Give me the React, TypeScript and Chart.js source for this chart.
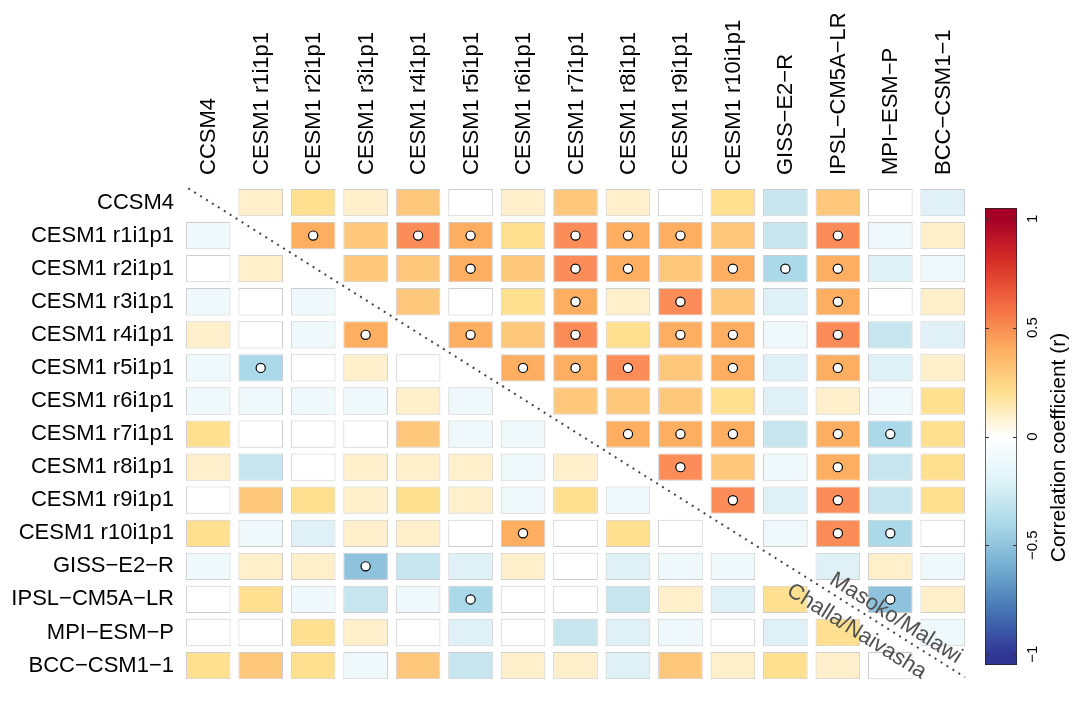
import React, { useEffect, useRef } from 'react';
import { Chart, registerables } from 'chart.js';

Chart.register(...registerables);

const FONT = "'Liberation Sans', Arial, Helvetica, sans-serif";

const models = [
  'CCSM4',
  'CESM1 r1i1p1',
  'CESM1 r2i1p1',
  'CESM1 r3i1p1',
  'CESM1 r4i1p1',
  'CESM1 r5i1p1',
  'CESM1 r6i1p1',
  'CESM1 r7i1p1',
  'CESM1 r8i1p1',
  'CESM1 r9i1p1',
  'CESM1 r10i1p1',
  'GISS\u2212E2\u2212R',
  'IPSL\u2212CM5A\u2212LR',
  'MPI\u2212ESM\u2212P',
  'BCC\u2212CSM1\u22121',
];

// correlation coefficients (r), row model vs column model; null on the diagonal
const rowCCSM4 = [null, 0.1, 0.2, 0.1, 0.3, 0.0, 0.1, 0.3, 0.1, 0.0, 0.2, -0.3, 0.3, 0.0, -0.2];
const rowR1 = [-0.1, null, 0.4, 0.3, 0.5, 0.4, 0.2, 0.5, 0.4, 0.4, 0.3, -0.3, 0.5, -0.1, 0.1];
const rowR2 = [0.0, 0.1, null, 0.3, 0.3, 0.4, 0.3, 0.5, 0.4, 0.3, 0.4, -0.4, 0.4, -0.2, -0.1];
const rowR3 = [-0.1, 0.0, -0.1, null, 0.3, 0.0, 0.2, 0.4, 0.1, 0.5, 0.3, -0.2, 0.4, 0.0, 0.1];
const rowR4 = [0.1, 0.0, -0.1, 0.4, null, 0.4, 0.3, 0.5, 0.2, 0.4, 0.4, -0.1, 0.5, -0.3, -0.2];
const rowR5 = [-0.1, -0.4, 0.0, 0.1, 0.0, null, 0.4, 0.4, 0.5, 0.3, 0.4, -0.2, 0.4, -0.2, 0.1];
const rowR6 = [-0.1, -0.1, -0.1, -0.1, 0.1, -0.1, null, 0.3, 0.3, 0.3, 0.2, -0.2, 0.1, -0.1, 0.2];
const rowR7 = [0.2, 0.0, 0.0, 0.0, 0.3, -0.1, -0.1, null, 0.4, 0.4, 0.4, -0.3, 0.4, -0.4, 0.2];
const rowR8 = [0.1, -0.3, 0.0, 0.1, 0.1, 0.1, -0.1, 0.1, null, 0.5, 0.3, -0.1, 0.4, -0.3, 0.2];
const rowR9 = [0.0, 0.3, 0.2, 0.1, 0.2, 0.1, -0.1, 0.2, -0.1, null, 0.5, -0.2, 0.5, -0.3, 0.2];
const rowR10 = [0.2, -0.1, -0.2, 0.1, 0.1, 0.0, 0.4, 0.0, 0.2, 0.0, null, -0.1, 0.5, -0.4, 0.0];
const rowGISS = [-0.1, 0.1, 0.1, -0.5, -0.3, -0.2, 0.1, 0.0, -0.2, -0.1, -0.1, null, -0.2, 0.1, -0.1];
const rowIPSL = [0.0, 0.2, -0.1, -0.3, -0.1, -0.4, 0.0, 0.0, -0.3, 0.1, -0.2, 0.2, null, -0.5, 0.1];
const rowMPI = [0.0, 0.0, 0.2, 0.1, 0.0, -0.2, 0.0, -0.3, -0.2, -0.1, 0.0, -0.2, 0.2, null, -0.1];
const rowBCC = [0.2, 0.3, 0.2, -0.1, 0.3, -0.3, 0.1, 0.1, -0.2, 0.3, 0.1, 0.2, 0.1, 0.0, null];

const correlations = [
  rowCCSM4, rowR1, rowR2, rowR3, rowR4, rowR5, rowR6, rowR7,
  rowR8, rowR9, rowR10, rowGISS, rowIPSL, rowMPI, rowBCC,
];

// significant correlations: [row, column]
const significant: [number, number][] = [
  [1, 2], [1, 4], [1, 5], [1, 7], [1, 8], [1, 9], [1, 12],
  [2, 5], [2, 7], [2, 8], [2, 10], [2, 11], [2, 12],
  [3, 7], [3, 9], [3, 12],
  [4, 3], [4, 5], [4, 7], [4, 9], [4, 10], [4, 12],
  [5, 1], [5, 6], [5, 7], [5, 8], [5, 10], [5, 12],
  [7, 8], [7, 9], [7, 10], [7, 12], [7, 13],
  [8, 9], [8, 12],
  [9, 10], [9, 12],
  [10, 6], [10, 12], [10, 13],
  [11, 3],
  [12, 5], [12, 13],
];

const diagonalX = [-0.38, 14.42];
const diagonalY = [-0.43, 14.35];
const upperLabel = 'Masoko/Malawi';
const lowerLabel = 'Challa/Naivasha';

const cellPalette = [
  '#8fc3dd', '#abd9e9', '#c7e5ef', '#dff1f7', '#eff8fb', '#ffffff',
  '#ffefca', '#fee090', '#fec87c', '#fdae61', '#fc8d59',
];

function cellColor(v: number) {
  const k = Math.max(-5, Math.min(5, Math.round(v * 10)));
  return cellPalette[k + 5];
}

const colorbarTicks = [-1, -0.5, 0, 0.5, 1];
const colorbarRange = [-1.05, 1.05];
const colorbarStops: [number, string][] = [
  [-1, '#313695'], [-0.8, '#4575b4'], [-0.6, '#74add1'], [-0.4, '#abd9e9'],
  [-0.2, '#e0f3f8'], [0, '#ffffff'], [0.2, '#fee090'], [0.4, '#fdae61'],
  [0.6, '#f46d43'], [0.8, '#d73027'], [1, '#a50026'],
];
const colorbarTitle = 'Correlation coefficient (r)';

const HALF = 0.413;

const topLabelPlugin = {
  id: 'topLabels',
  afterDraw(chart: any) {
    const xs = chart.scales.x;
    const top = chart.chartArea.top;
    const ctx = chart.ctx;
    ctx.save();
    ctx.font = `22px ${FONT}`;
    ctx.fillStyle = '#000';
    ctx.textAlign = 'left';
    ctx.textBaseline = 'middle';
    models.forEach((m, i) => {
      ctx.save();
      ctx.translate(xs.getPixelForValue(i) + 1, top - 11);
      ctx.rotate(-Math.PI / 2);
      ctx.fillText(m, 0, 0);
      ctx.restore();
    });
    ctx.restore();
  },
};

const diagLabelPlugin = {
  id: 'diagLabels',
  afterDatasetsDraw(chart: any) {
    const xs = chart.scales.x;
    const ys = chart.scales.y;
    const x0 = xs.getPixelForValue(diagonalX[0]);
    const y0 = ys.getPixelForValue(diagonalY[0]);
    const x1 = xs.getPixelForValue(diagonalX[1]);
    const y1 = ys.getPixelForValue(diagonalY[1]);
    const ang = Math.atan2(y1 - y0, x1 - x0);
    const slope = (y1 - y0) / (x1 - x0);
    const ctx = chart.ctx;
    const put = (text: string, col: number, off: number) => {
      const px = xs.getPixelForValue(col);
      const py = y0 + (px - x0) * slope;
      ctx.save();
      ctx.translate(px, py);
      ctx.rotate(ang);
      ctx.font = `22px ${FONT}`;
      ctx.fillStyle = '#505050';
      ctx.textAlign = 'center';
      ctx.textBaseline = 'middle';
      ctx.fillText(text, 0, off);
      ctx.restore();
    };
    put(upperLabel, 12.97, -13);
    put(lowerLabel, 12.55, 19);
  },
};

const colorbarPlugin = {
  id: 'colorbarDecor',
  afterDraw(chart: any) {
    const ys = chart.scales.y;
    const { left, right, top, bottom } = chart.chartArea;
    const ctx = chart.ctx;
    ctx.save();
    ctx.strokeStyle = '#333';
    ctx.lineWidth = 1;
    colorbarTicks.forEach((t) => {
      const py = Math.round(ys.getPixelForValue(t)) + 0.5;
      ctx.beginPath();
      ctx.moveTo(left, py);
      ctx.lineTo(left + 4, py);
      ctx.moveTo(right - 4, py);
      ctx.lineTo(right, py);
      ctx.stroke();
      ctx.save();
      ctx.translate(right + 16, ys.getPixelForValue(t));
      ctx.rotate(-Math.PI / 2);
      ctx.font = `15px ${FONT}`;
      ctx.fillStyle = '#000';
      ctx.textAlign = 'center';
      ctx.textBaseline = 'middle';
      ctx.fillText(String(t).replace('-', '\u2212'), 0, 0);
      ctx.restore();
    });
    ctx.save();
    ctx.translate(right + 42, (top + bottom) / 2 + 11);
    ctx.rotate(-Math.PI / 2);
    ctx.font = `21px ${FONT}`;
    ctx.fillStyle = '#000';
    ctx.textAlign = 'center';
    ctx.textBaseline = 'middle';
    ctx.fillText(colorbarTitle, 0, 0);
    ctx.restore();
    ctx.restore();
  },
};

export default function App() {
  const mainRef = useRef<HTMLCanvasElement>(null);
  const cbRef = useRef<HTMLCanvasElement>(null);

  useEffect(() => {
    const barSets = correlations.map((row, r) => ({
      type: 'bar',
      label: models[r],
      data: row
        .map((v, c) => (v === null ? null : { x: c, y: [r - HALF, r + HALF], v }))
        .filter((d) => d !== null),
      backgroundColor: (ctx: any) => cellColor(ctx.raw ? ctx.raw.v : 0),
      borderColor: '#cdcdcd',
      borderWidth: 1,
      borderSkipped: false,
      grouped: false,
      barPercentage: 0.85,
      categoryPercentage: 1,
      order: 2,
    }));

    const markerSet = {
      type: 'scatter',
      label: 'significant',
      data: significant.map(([r, c]) => ({ x: c, y: r })),
      pointRadius: 4.6,
      pointStyle: 'circle',
      backgroundColor: '#ffffff',
      borderColor: '#000000',
      pointBackgroundColor: '#ffffff',
      pointBorderColor: '#000000',
      pointBorderWidth: 1.2,
      borderWidth: 1.2,
      order: 0,
    };

    const lineSet = {
      type: 'line',
      label: 'diagonal',
      data: [
        { x: diagonalX[0], y: diagonalY[0] },
        { x: diagonalX[1], y: diagonalY[1] },
      ],
      borderColor: '#444444',
      borderWidth: 2,
      borderDash: [2, 5],
      pointRadius: 0,
      fill: false,
      tension: 0,
      order: 1,
    };

    const tickFont = { family: FONT, size: 22 };

    const main = new Chart(mainRef.current as HTMLCanvasElement, {
      type: 'bar',
      data: { datasets: [markerSet, lineSet, ...barSets] as any },
      options: {
        animation: false,
        responsive: false,
        events: [],
        layout: { padding: { top: 0, left: 0, right: 103, bottom: 0 } },
        plugins: { legend: { display: false }, tooltip: { enabled: false } },
        scales: {
          x: {
            type: 'linear',
            position: 'top',
            min: -0.5,
            max: 14.5,
            bounds: 'data',
            offset: false,
            grid: { display: false, drawTicks: false },
            border: { display: false },
            afterBuildTicks: (s: any) => {
              s.ticks = models.map((_, i) => ({ value: i }));
            },
            afterFit: (s: any) => {
              s.height = 186;
            },
            ticks: { display: false },
          },
          y: {
            type: 'linear',
            min: -0.5,
            max: 14.46,
            reverse: true,
            bounds: 'data',
            grid: { display: false, drawTicks: false },
            border: { display: false },
            afterBuildTicks: (s: any) => {
              s.ticks = models.map((_, i) => ({ value: i }));
            },
            afterFit: (s: any) => {
              s.width = 182;
            },
            ticks: {
              autoSkip: false,
              padding: 8,
              color: '#000',
              font: tickFont,
              callback: (v: any) => models[v] ?? '',
            },
          },
        },
      } as any,
      plugins: [topLabelPlugin, diagLabelPlugin],
    });

    const cb = new Chart(cbRef.current as HTMLCanvasElement, {
      type: 'bar',
      data: {
        labels: ['r'],
        datasets: [
          {
            data: [colorbarRange] as any,
            backgroundColor: (ctx: any) => {
              const chart = ctx.chart;
              const ys = chart.scales.y;
              if (!chart.chartArea || !ys) return '#fff';
              const g = chart.ctx.createLinearGradient(0, ys.getPixelForValue(-1), 0, ys.getPixelForValue(1));
              colorbarStops.forEach(([v, c]) => g.addColorStop((v + 1) / 2, c));
              return g;
            },
            borderColor: '#222',
            borderWidth: 1,
            borderSkipped: false,
            barPercentage: 1,
            categoryPercentage: 1,
          },
        ],
      },
      options: {
        animation: false,
        responsive: false,
        events: [],
        layout: { padding: { top: 208, bottom: 37, left: 25, right: 0 } },
        plugins: { legend: { display: false }, tooltip: { enabled: false } },
        scales: {
          x: { display: false },
          y: {
            position: 'right',
            min: colorbarRange[0],
            max: colorbarRange[1],
            grid: { display: false },
            border: { display: false },
            ticks: { display: false },
            afterFit: (s: any) => {
              s.width = 55;
            },
          },
        },
      } as any,
      plugins: [colorbarPlugin],
    });

    return () => {
      main.destroy();
      cb.destroy();
    };
  }, []);

  return (
    <div style={{ position: 'fixed', left: 0, top: 0, width: 1072, height: 702, background: '#fff' }}>
      <canvas ref={mainRef} width={1072} height={702} style={{ position: 'absolute', left: 0, top: 0 }} />
      <canvas ref={cbRef} width={112} height={702} style={{ position: 'absolute', left: 960, top: 0 }} />
    </div>
  );
}
